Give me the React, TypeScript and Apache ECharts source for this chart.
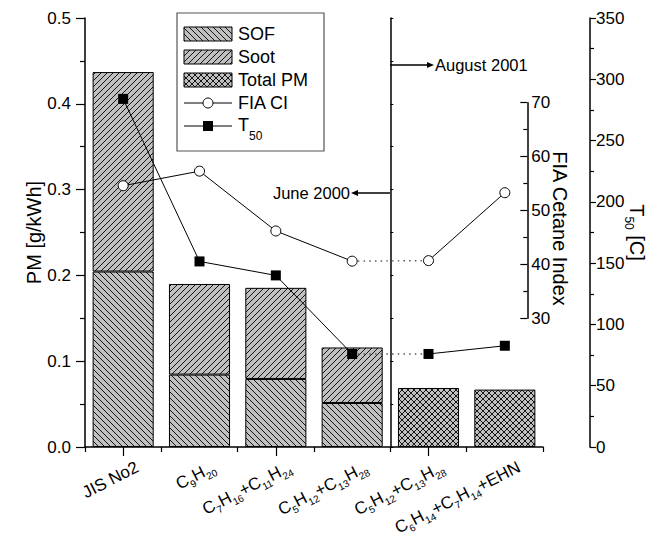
import React, { useEffect, useRef } from 'react';
import * as echarts from 'echarts';

// ---------- data ----------
const categories = ['JIS No2', 'C9H20', 'C7H16+C11H24', 'C5H12+C13H28', 'C5H12+C13H28', 'C6H14+C7H14+EHN'];
const sofValues = [0.2045, 0.0844, 0.0793, 0.0513, '-', '-'];
const sootValues = [0.2325, 0.1056, 0.1062, 0.0647, '-', '-'];
const totalPmValues = ['-', '-', '-', '-', 0.0688, 0.0669];
const fiaValues = [54.6, 57.3, 46.2, 40.6, 40.7, 53.3];
const t50Values = [284, 151.4, 140, 75.9, 75.9, 82.6];
const dottedLink = [3, 4];
const pmRange = [0, 0.5, 0.1];
const fiaRange = [30, 70, 10];
const t50Range = [0, 350, 50];
const legendNames = ['SOF', 'Soot', 'Total PM', 'FIA CI', 'T50'];

const FONT = '"Liberation Sans", Arial, Helvetica, sans-serif';

function toRich(name: string) {
  let out = '';
  let last = 0;
  const re = /([CHT])(\d+)/g;
  let m: RegExpExecArray | null;
  while ((m = re.exec(name))) {
    const end = m.index + 1;
    out += `{n|${name.slice(last, end)}}{s|${m[2]}}`;
    last = m.index + m[0].length;
  }
  if (last < name.length) out += `{n|${name.slice(last)}}`;
  return out;
}

function segment(vals: any[], from: number, to: number) {
  return vals.map((v, i) => (i >= from && i <= to ? v : '-'));
}

function makePattern(kind: 'back' | 'fwd' | 'cross') {
  const s = 6;
  const c = document.createElement('canvas');
  c.width = s;
  c.height = s;
  const ctx = c.getContext('2d')!;
  ctx.fillStyle = '#c0c0c0';
  ctx.fillRect(0, 0, s, s);
  ctx.strokeStyle = '#000';
  ctx.lineWidth = 0.9;
  ctx.beginPath();
  for (let k = -1; k <= 1; k++) {
    if (kind === 'back' || kind === 'cross') {
      ctx.moveTo(k * s, 0);
      ctx.lineTo(k * s + s, s);
    }
    if (kind === 'fwd' || kind === 'cross') {
      ctx.moveTo(k * s, s);
      ctx.lineTo(k * s + s, 0);
    }
  }
  ctx.stroke();
  return { image: c, repeat: 'repeat', imageWidth: s, imageHeight: s } as any;
}

export default function App() {
  const ref = useRef<HTMLDivElement>(null);
  useEffect(() => {
    document.body.style.margin = '0';
    const chart = echarts.init(ref.current!, null, { renderer: 'svg' });
    const sofPat = makePattern('back');
    const sootPat = makePattern('fwd');
    const totPat = makePattern('cross');

    const gridL = 85;
    const gridW = 458;
    const gridT = 18;
    const gridH = 429;

    const richLabel = {
      n: { fontSize: 17, fontFamily: FONT, color: '#000', lineHeight: 19 },
      s: { fontSize: 10, fontFamily: FONT, color: '#000', lineHeight: 10, padding: [13, 0, 0, 0] },
    };

    const axisLineStyle = { color: '#000', width: 1.5 };
    const tickStyle = { color: '#000', width: 1.2 };

    const barBase = { type: 'bar', xAxisIndex: 0, yAxisIndex: 0, stack: 'pm', barWidth: '80%' };
    const lineBase = { type: 'line', symbolSize: 10, z: 5 };

    // legend graphic
    const lx = 177, ly = 13, lw = 147, lh = 138;
    const rowY = (i: number) => ly + 21 + i * 23;
    const pats = [sofPat, sootPat, totPat];
    const legendEls: any[] = [
      { type: 'rect', shape: { x: lx, y: ly, width: lw, height: lh }, style: { fill: '#fff', stroke: '#555', lineWidth: 1.2 } },
    ];
    legendNames.forEach((nm, i) => {
      const y = rowY(i);
      if (i < 3) {
        legendEls.push({ type: 'rect', shape: { x: 184, y: y - 7, width: 48, height: 14 }, style: { fill: pats[i], stroke: '#000', lineWidth: 1 } });
      } else {
        legendEls.push({ type: 'line', shape: { x1: 184, y1: y, x2: 232, y2: y }, style: { stroke: '#000', lineWidth: 1 } });
        if (i === 3) legendEls.push({ type: 'circle', shape: { cx: 208, cy: y, r: 5 }, style: { fill: '#fff', stroke: '#000', lineWidth: 1 } });
        else legendEls.push({ type: 'rect', shape: { x: 203, y: y - 5, width: 10, height: 10 }, style: { fill: '#000' } });
      }
      legendEls.push({
        type: 'text', x: 238, y: i === 4 ? y - 1 : y, style: {
          text: toRich(nm), verticalAlign: 'middle', align: 'left', fill: '#000',
          rich: {
            n: { fontSize: 18, fontFamily: FONT, fill: '#000', lineHeight: 20 },
            s: { fontSize: 12, fontFamily: FONT, fill: '#000', lineHeight: 12, padding: [22, 0, 0, 0] },
          },
        },
      });
    });

    // annotations
    const augY = 65, junY = 193, sepX = 390;
    const annot: any[] = [
      { type: 'line', shape: { x1: sepX, y1: augY, x2: 428, y2: augY }, style: { stroke: '#000', lineWidth: 1.3 } },
      { type: 'polygon', shape: { points: [[434, augY], [427, augY - 3], [427, augY + 3]] }, style: { fill: '#000' } },
      { type: 'text', x: 435, y: augY, style: { text: 'August 2001', fontSize: 16.5, fontFamily: FONT, fill: '#000', verticalAlign: 'middle', align: 'left' } },
      { type: 'line', shape: { x1: sepX, y1: junY, x2: 357, y2: junY }, style: { stroke: '#000', lineWidth: 1.3 } },
      { type: 'polygon', shape: { points: [[351, junY], [358, junY - 3], [358, junY + 3]] }, style: { fill: '#000' } },
      { type: 'text', x: 350, y: junY, style: { text: 'June 2000', fontSize: 16.5, fontFamily: FONT, fill: '#000', verticalAlign: 'middle', align: 'right' } },
    ];

    const gridCommon = { containLabel: false, outerBoundsMode: 'none' };

    const option: any = {
      animation: false,
      textStyle: { fontFamily: FONT, color: '#000' },
      grid: [
        { ...gridCommon, left: gridL, top: gridT, width: gridW, height: gridH },
        { ...gridCommon, left: gridL, top: 102.7, width: gridW, height: 215.6 },
        { ...gridCommon, left: gridL, top: gridT, width: (gridW * 4) / 6, height: gridH },
      ],
      xAxis: [
        {
          type: 'category', gridIndex: 0, position: 'bottom', data: categories,
          axisLine: { lineStyle: axisLineStyle },
          axisTick: { show: true, length: 5, lineStyle: tickStyle },
          axisLabel: {
            interval: 0, rotate: 27, margin: -9, color: '#000', fontFamily: FONT, fontSize: 17,
            verticalAlign: 'top', padding: [22, 0, 0, 0],
            formatter: (_v: string, idx: number) => toRich(categories[idx]), rich: richLabel,
          },
          splitLine: { show: false },
        },
        {
          type: 'category', gridIndex: 0, position: 'bottom', data: categories,
          axisLine: { show: false },
          axisTick: { show: true, alignWithLabel: true, length: 9, lineStyle: tickStyle },
          axisLabel: { show: false },
          splitLine: { show: false },
        },
        { type: 'category', gridIndex: 1, data: categories, show: false },
        { type: 'category', gridIndex: 2, data: categories.slice(0, 4), show: false },
      ],
      yAxis: [
        {
          type: 'value', gridIndex: 0, position: 'left', min: pmRange[0], max: pmRange[1], interval: pmRange[2],
          name: 'PM [g/kWh]', nameLocation: 'middle', nameGap: 41, nameRotate: 90, nameMoveOverlap: false,
          nameTextStyle: { fontSize: 20, color: '#000', fontFamily: FONT },
          axisLine: { show: true, lineStyle: axisLineStyle },
          axisTick: { show: true, length: 9, lineStyle: tickStyle },
          minorTick: { show: true, splitNumber: 2, length: 5, lineStyle: tickStyle },
          axisLabel: { fontSize: 17, color: '#000', margin: 14, formatter: (v: number) => v.toFixed(1) },
          splitLine: { show: false },
        },
        {
          type: 'value', gridIndex: 0, position: 'right', offset: 47, min: t50Range[0], max: t50Range[1], interval: t50Range[2],
          name: '{n|T}{s|50}{n| [C]}', nameLocation: 'middle', nameGap: 36, nameRotate: -90, nameMoveOverlap: false,
          nameTextStyle: {
            fontSize: 20, color: '#000', fontFamily: FONT,
            rich: {
              n: { fontSize: 20, fontFamily: FONT, color: '#000', lineHeight: 22 },
              s: { fontSize: 12, fontFamily: FONT, color: '#000', lineHeight: 12, padding: [17, 0, 0, 0] },
            },
          },
          axisLine: { show: true, lineStyle: axisLineStyle },
          axisTick: { show: true, length: 6, lineStyle: tickStyle },
          minorTick: { show: true, splitNumber: 2, length: 4, lineStyle: tickStyle },
          axisLabel: { fontSize: 17, color: '#000', margin: 6 },
          splitLine: { show: false },
        },
        {
          type: 'value', gridIndex: 1, position: 'right', offset: -15.7, min: fiaRange[0], max: fiaRange[1], interval: fiaRange[2],
          name: 'FIA Cetane Index', nameLocation: 'middle', nameGap: 23, nameRotate: -90, nameMoveOverlap: false,
          nameTextStyle: { fontSize: 20, color: '#000', fontFamily: FONT, padding: [0, 0, 0, 36] },
          axisLine: { show: true, lineStyle: axisLineStyle },
          axisTick: { show: true, inside: true, length: 7, lineStyle: tickStyle },
          minorTick: { show: true, splitNumber: 2, length: 4, lineStyle: tickStyle },
          axisLabel: { fontSize: 17, color: '#000', margin: 4 },
          splitLine: { show: false },
        },
        {
          type: 'value', gridIndex: 2, position: 'right', min: pmRange[0], max: pmRange[1], interval: pmRange[2] / 2,
          axisLine: { show: true, lineStyle: axisLineStyle },
          axisTick: { show: true, length: 3, lineStyle: { color: '#000', width: 1 } },
          axisLabel: { show: false },
          splitLine: { show: false },
        },
      ],
      series: [
        { ...barBase, name: 'SOF', data: sofValues, itemStyle: { color: sofPat, borderColor: '#000', borderWidth: 1 } },
        { ...barBase, name: 'Soot', data: sootValues, itemStyle: { color: sootPat, borderColor: '#000', borderWidth: 1 } },
        { ...barBase, name: 'Total PM', data: totalPmValues, itemStyle: { color: totPat, borderColor: '#000', borderWidth: 1 } },
        {
          ...lineBase, name: 'FIA CI dotted', xAxisIndex: 2, yAxisIndex: 2, symbol: 'none',
          data: segment(fiaValues, dottedLink[0], dottedLink[1]),
          lineStyle: { color: '#555', width: 1.4, type: [1.5, 4.2] },
        },
        {
          ...lineBase, name: 'T50 dotted', xAxisIndex: 0, yAxisIndex: 1, symbol: 'none',
          data: segment(t50Values, dottedLink[0], dottedLink[1]),
          lineStyle: { color: '#555', width: 1.4, type: [1.5, 4.2] },
        },
        {
          ...lineBase, name: 'FIA CI', xAxisIndex: 2, yAxisIndex: 2, symbol: 'circle',
          data: segment(fiaValues, 0, dottedLink[0]),
          itemStyle: { color: '#fff', borderColor: '#000', borderWidth: 1 }, lineStyle: { color: '#000', width: 1 },
        },
        {
          ...lineBase, name: 'FIA CI b', xAxisIndex: 2, yAxisIndex: 2, symbol: 'circle',
          data: segment(fiaValues, dottedLink[1], fiaValues.length - 1),
          itemStyle: { color: '#fff', borderColor: '#000', borderWidth: 1 }, lineStyle: { color: '#000', width: 1 },
        },
        {
          ...lineBase, name: 'T50', xAxisIndex: 0, yAxisIndex: 1, symbol: 'rect',
          data: segment(t50Values, 0, dottedLink[0]),
          itemStyle: { color: '#000' }, lineStyle: { color: '#000', width: 1 },
        },
        {
          ...lineBase, name: 'T50 b', xAxisIndex: 0, yAxisIndex: 1, symbol: 'rect',
          data: segment(t50Values, dottedLink[1], t50Values.length - 1),
          itemStyle: { color: '#000' }, lineStyle: { color: '#000', width: 1 },
        },
      ],
      graphic: [...legendEls, ...annot],
    };
    chart.setOption(option);
    return () => chart.dispose();
  }, []);
  return <div ref={ref} style={{ width: 667, height: 538 }} />;
}
